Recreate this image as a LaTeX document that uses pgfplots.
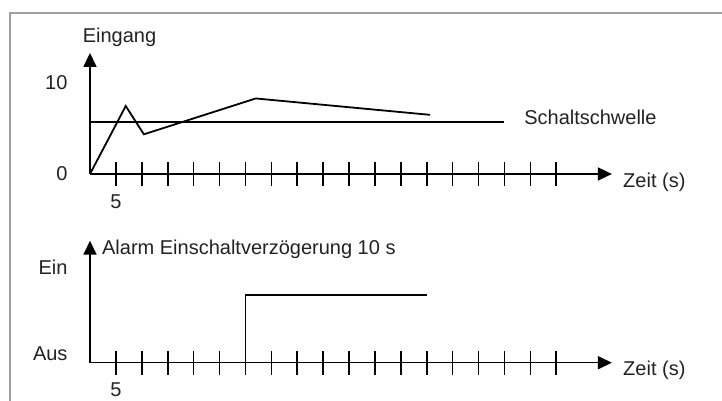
\documentclass[border=0pt]{standalone}
\usepackage{pgfplots}
\pgfplotsset{compat=1.18}
\usepackage{fontspec}
\setmainfont{Liberation Sans}
\usetikzlibrary{arrows.meta}
\definecolor{txt}{HTML}{222222}
\definecolor{frame}{HTML}{A0A0A0}
\newcommand{\bigf}{\fontsize{20}{24}\selectfont}
\pgfplotsset{
  schema/.style={
    anchor=origin,
    x=25.9pt,
    xmin=0, xmax=20.15,
    axis lines=left,
    clip=false,
    axis line style={line width=1.6pt, black, -{Triangle[length=14pt,width=13pt]}},
    xtick={1,...,18},
    xticklabels={5,{},{},{},{},{},{},{},{},{},{},{},{},{},{},{},{},{}},
    xtick align=center,
    major tick length=24pt,
    xtick style={line width=1.6pt, black},
    ytick style={draw=none},
    /pgf/number format/assume math mode=true,
    tick label style={font=\bigf, text=txt},
    xticklabel style={yshift=-5pt},
    yticklabel style={xshift=-7pt},
    label style={font=\bigf, text=txt},
    xlabel={Zeit (s)},
  }
}
\begin{document}
\begin{tikzpicture}[x=1pt,y=1pt]
\path[use as bounding box] (0,0) rectangle (722,401);
\draw[frame, line width=1.2pt] (10,0) -- (10,388) -- (722,388);

% top: input signal
\begin{axis}[schema,
  at={(90pt,227pt)},
  y=9.1pt, ymin=0, ymax=13.3,
  ytick={0,10},
  ylabel={Eingang},
  ylabel style={rotate=-90, at={(axis cs:1.14,15.05)}, anchor=center, inner sep=0pt},
  xlabel style={at={(axis cs:20.58,-0.88)}, anchor=west, inner sep=0pt},
]
\addplot[black, line width=1.8pt, mark=none] coordinates {(0,0) (1.38,7.47) (2.08,4.36) (6.40,8.30) (13.13,6.50)};
\addplot[black, line width=1.8pt, mark=none] coordinates {(0,5.68) (16,5.68)};
\node[font=\bigf, text=txt, anchor=west, inner sep=0pt] at (axis cs:16.76,6.26) {Schaltschwelle};
\end{axis}

% bottom: alarm output
\begin{axis}[schema,
  at={(90pt,38.3pt)},
  y=1pt, ymin=0, ymax=122,
  ytick={8.7,95.7},
  yticklabels={Aus,Ein},
  xlabel style={at={(axis cs:20.58,-7.3)}, anchor=west, inner sep=0pt},
]
\addplot[black, line width=1.8pt, mark=none] coordinates {(6,0) (6,67.7) (13,67.7)};
\node[font=\bigf, text=txt, anchor=west, inner sep=0pt] at (axis cs:0.46,113.7) {Alarm Einschaltverzögerung 10 s};
\end{axis}
\end{tikzpicture}
\end{document}
